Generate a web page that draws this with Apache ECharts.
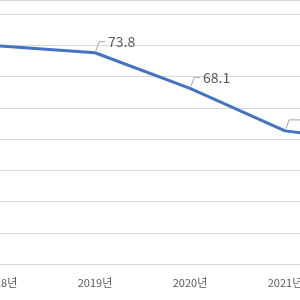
<!DOCTYPE html>
<html>
<head>
<meta charset="utf-8">
<script src="https://cdn.jsdelivr.net/npm/echarts@6/dist/echarts.min.js"></script>
<style>
  html, body { margin: 0; padding: 0; background: #fff; }
  #chart { width: 300px; height: 300px; }
</style>
</head>
<body>
<div id="chart"></div>
<script>
const years = ['2018년', '2019년', '2020년', '2021년', '2022년'];
const values = [74.9, 73.8, 68.1, 61.3, 59.3];
const labelled = [false, true, true, true, true];

const FONT = '"Noto Sans CJK KR", "Noto Sans", sans-serif';
const chart = echarts.init(document.getElementById('chart'));

// leader line: short diagonal up, then a horizontal tail to the value text
const leaderLabels = (params, api) => {
  const i = params.dataIndex;
  if (!labelled[i]) return null;
  const p = api.coord([i, api.value(1)]);
  const corner = [p[0] + 4, p[1] - 11];
  const tail = i === 3 ? 16 : 6;
  return {
    type: 'group',
    children: [
      {
        type: 'polyline',
        shape: { points: [[p[0] + 1, p[1] - 2], corner, [corner[0] + tail, corner[1]]] },
        style: { stroke: '#a6a6a6', lineWidth: 1, fill: null }
      },
      {
        type: 'text',
        x: corner[0] + tail + 3,
        y: corner[1],
        style: {
          text: String(values[i]),
          fill: '#595959',
          font: '14px ' + FONT,
          verticalAlign: 'middle',
          align: 'left'
        }
      }
    ]
  };
};

chart.setOption({
  animation: false,
  graphic: [{
    type: 'line',
    shape: { x1: 0, y1: 0.5, x2: 300, y2: 0.5 },
    style: { stroke: '#d9d9d9', lineWidth: 1 }
  }],
  grid: { left: 0, top: 14, width: 380, bottom: 36, outerBoundsMode: 'none', containLabel: false },
  xAxis: {
    type: 'category',
    data: years,
    boundaryGap: false,
    axisLine: { lineStyle: { color: '#d9d9d9', width: 1 } },
    axisTick: { show: false },
    axisLabel: {
      interval: 0,
      color: '#595959',
      fontSize: 11,
      fontFamily: FONT,
      margin: 13
    },
    splitLine: { show: false }
  },
  yAxis: {
    type: 'value',
    min: 40,
    max: 80,
    interval: 5,
    axisLabel: { show: false },
    axisLine: { show: false },
    axisTick: { show: false },
    splitLine: { lineStyle: { color: '#d9d9d9', width: 1 } }
  },
  series: [
    {
      type: 'line',
      data: values,
      symbol: 'none',
      lineStyle: { color: '#4472c4', width: 3 },
      z: 3
    },
    {
      type: 'custom',
      data: values.map((v, i) => [i, v]),
      renderItem: leaderLabels,
      z: 4
    }
  ]
});
</script>
</body>
</html>
